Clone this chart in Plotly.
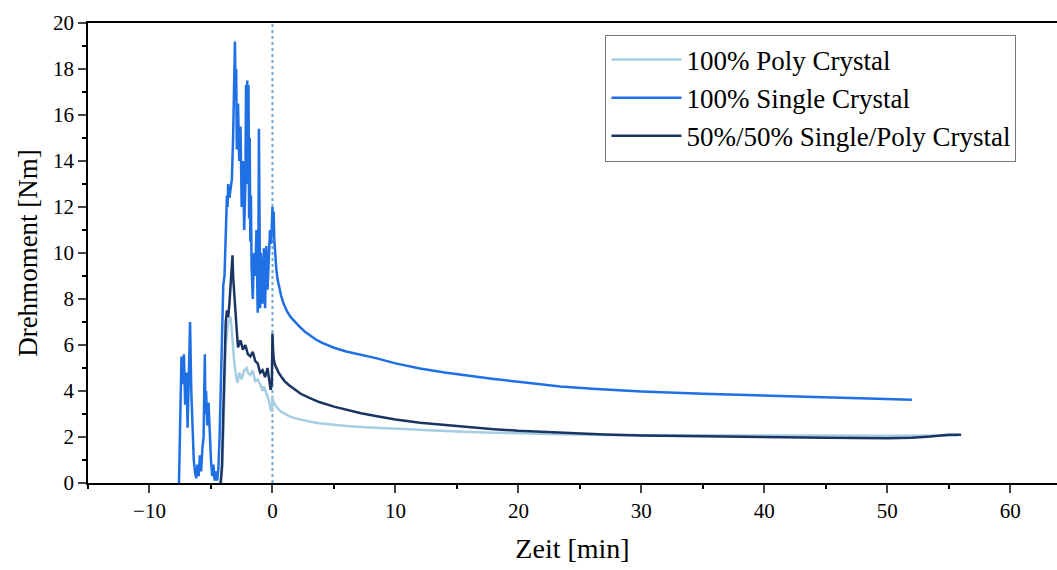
import plotly.graph_objects as go

# ---- data ----
single_t = [-7.6, -7.5, -7.4, -7.3, -7.2, -7.1, -7.0, -6.9, -6.8, -6.7, -6.6, -6.5, -6.4, -6.3, -6.2, -6.1,
            -6.0, -5.9, -5.8, -5.7, -5.6, -5.5, -5.45, -5.4, -5.3, -5.2, -5.1, -5.0, -4.9, -4.8, -4.7, -4.6,
            -4.5, -4.4, -4.3, -4.2, -4.1, -4.0, -3.9, -3.8, -3.7, -3.65, -3.6, -3.5, -3.4, -3.3, -3.2, -3.1,
            -3.05, -3.0, -2.95, -2.9, -2.8, -2.7, -2.6, -2.5, -2.4, -2.3, -2.2, -2.15, -2.1, -2.05, -2.0,
            -1.95, -1.9, -1.85, -1.8, -1.75, -1.7, -1.6, -1.5, -1.4, -1.3, -1.2, -1.15, -1.1, -1.0, -0.95,
            -0.9, -0.8, -0.7, -0.6, -0.5, -0.4, -0.3, -0.2, -0.1, 0.0, 0.05, 0.1, 0.15, 0.2, 0.3, 0.4, 0.5,
            0.7, 0.9, 1.2, 1.5, 1.9, 2.3, 2.7, 3.1, 3.5, 4.0, 4.5, 5.0, 6.0, 7.2, 8.5, 10, 12, 14, 16, 18,
            20, 23.4, 26, 30, 35, 40, 45, 50, 52]
single_v = [0.0, 3.0, 5.5, 4.3, 5.6, 3.4, 4.8, 2.4, 5.0, 7.0, 4.0, 2.0, 1.0, 0.5, 0.2, 0.8,
            0.3, 1.2, 0.5, 1.5, 2.0, 5.6, 3.0, 4.0, 2.5, 3.5, 1.8, 1.0, 0.3, 0.8, 0.1, 0.5,
            0.1, 0.6, 2.0, 4.5, 7.5, 8.6, 9.0, 11.0, 12.5, 12.0, 13.0, 12.4, 12.8, 13.2, 15.0, 18.9,
            19.2, 17.0, 18.0, 14.5, 16.5, 14.0, 15.5, 12.0, 14.0, 11.0, 13.0, 17.3, 14.0, 17.5, 13.0,
            17.3, 11.5, 15.0, 10.5, 12.5, 9.5, 8.0, 10.0, 9.0, 11.0, 7.4, 9.0, 15.4, 7.6, 10.0,
            9.5, 7.8, 10.2, 7.6, 10.3, 8.4, 9.5, 11.0, 10.4, 12.0, 11.0, 11.8, 10.6, 10.0, 9.4, 8.9, 8.6,
            8.15, 7.8, 7.45, 7.2, 6.95, 6.75, 6.55, 6.38, 6.25, 6.1, 5.98, 5.88, 5.72, 5.58, 5.42, 5.2, 4.98, 4.8, 4.65, 4.52,
            4.4, 4.2, 4.1, 3.98, 3.88, 3.8, 3.72, 3.66, 3.62]

poly_t = [-4.3, -4.1, -4.0, -3.9, -3.8, -3.6, -3.4, -3.3, -3.2, -3.1, -3.0, -2.9, -2.85, -2.7, -2.5, -2.3,
          -2.1, -2.0, -1.8, -1.6, -1.4, -1.2, -1.0, -0.8, -0.7, -0.5, -0.3, -0.15, -0.05, 0.0, 0.05, 0.1,
          0.2, 0.35, 0.5, 0.7, 1.0, 1.4, 1.8, 2.3, 3.0, 3.8, 5.0, 6.2, 7.5, 9, 10.5, 12, 15, 18, 20, 23.4,
          27, 30, 35, 40, 45, 50, 53, 55.7]
poly_v = [0.0, 0.5, 2.0, 4.5, 6.0, 7.0, 7.2, 6.6, 5.6, 5.2, 4.8, 4.5, 4.35, 4.8, 4.5, 4.9,
          5.0, 4.8, 4.7, 4.9, 4.4, 4.5, 4.3, 4.0, 4.2, 3.9, 3.6, 3.2, 3.1, 3.8, 3.5, 3.55,
          3.4, 3.28, 3.2, 3.1, 3.0, 2.9, 2.82, 2.75, 2.67, 2.6, 2.52, 2.47, 2.42, 2.38, 2.34, 2.3, 2.24, 2.19, 2.16, 2.12,
          2.09, 2.08, 2.07, 2.06, 2.06, 2.05, 2.06, 2.07]

mix_t = [-4.2, -4.1, -4.0, -3.9, -3.8, -3.7, -3.6, -3.5, -3.4, -3.3, -3.25, -3.2, -3.1, -3.0, -2.9, -2.8,
         -2.6, -2.4, -2.2, -2.0, -1.8, -1.6, -1.4, -1.2, -1.0, -0.8, -0.6, -0.4, -0.3, -0.15, -0.05, 0.0,
         0.05, 0.1, 0.2, 0.35, 0.5, 0.75, 1.0, 1.35, 1.7, 2.3, 3.0, 3.8, 5.0, 6.2, 7.2, 8.5, 10, 12, 15.3,
         18, 20, 23.4, 27, 30, 35, 40, 45, 50, 52, 53.5, 55, 56]
mix_v = [0.0, 0.8, 3.0, 5.5, 7.0, 7.5, 7.2, 7.8, 8.5, 9.5, 9.9, 9.0, 8.0, 7.2, 6.6, 5.9,
         6.2, 5.8, 6.0, 5.6, 5.5, 5.7, 5.3, 5.2, 4.8, 4.9, 4.6, 5.0, 4.6, 4.05, 4.3, 6.5,
         5.8, 5.4, 5.15, 4.95, 4.8, 4.6, 4.42, 4.25, 4.1, 3.88, 3.7, 3.52, 3.32, 3.15, 3.03, 2.9, 2.76, 2.62, 2.45,
         2.34, 2.27, 2.18, 2.11, 2.06, 2.02, 1.99, 1.97, 1.95, 1.97, 2.02, 2.1, 2.1]

x_ticks = [-10, 0, 10, 20, 30, 40, 50, 60]
y_ticks = [0, 2, 4, 6, 8, 10, 12, 14, 16, 18, 20]

FONT = "Liberation Serif"

fig = go.Figure()
fig.add_trace(go.Scatter(x=poly_t, y=poly_v, mode="lines", name="100% Poly Crystal",
                         line=dict(color="#a6cde2", width=2.5)))
fig.add_trace(go.Scatter(x=single_t, y=single_v, mode="lines", name="100% Single Crystal",
                         line=dict(color="#1f6fe5", width=2.5)))
fig.add_trace(go.Scatter(x=mix_t, y=mix_v, mode="lines", name="50%/50% Single/Poly Crystal",
                         line=dict(color="#1b3563", width=2.5)))

fig.add_shape(type="line", x0=0, x1=0, y0=0, y1=20, xref="x", yref="y",
              line=dict(color="#6fa6cf", width=2, dash="dot"), layer="below")

fig.update_layout(
    width=1057, height=570,
    margin=dict(l=88, r=0, t=23, b=87),
    paper_bgcolor="white", plot_bgcolor="white",
    font=dict(family=FONT, color="black"),
    showlegend=True,
    legend=dict(x=0.534, y=0.975, xanchor="left", yanchor="top",
                bordercolor="#777777", borderwidth=1, bgcolor="white",
                font=dict(family=FONT, size=27), itemwidth=70, tracegroupgap=0),
    xaxis=dict(range=[-15, 63.8], tickvals=x_ticks, ticks="outside", ticklen=8, tickwidth=1.5,
               showline=True, linecolor="black", linewidth=1.5, mirror=True, showgrid=False, zeroline=False,
               tickfont=dict(family=FONT, size=21),
               minor=dict(dtick=5, tick0=0, ticks="outside", ticklen=4, tickwidth=1.5, tickcolor="black"),
               title=dict(text="Zeit [min]", font=dict(family=FONT, size=28), standoff=16)),
    yaxis=dict(range=[0, 20], tickvals=y_ticks, ticks="outside", ticklen=8, tickwidth=1.5,
               showline=True, linecolor="black", linewidth=1.5, showgrid=False, zeroline=False,
               tickfont=dict(family=FONT, size=21),
               minor=dict(dtick=1, tick0=0, ticks="outside", ticklen=4, tickwidth=1.5, tickcolor="black"),
               title=dict(text="Drehmoment [Nm]", font=dict(family=FONT, size=27), standoff=8)),
)

fig.write_html("out.html")
